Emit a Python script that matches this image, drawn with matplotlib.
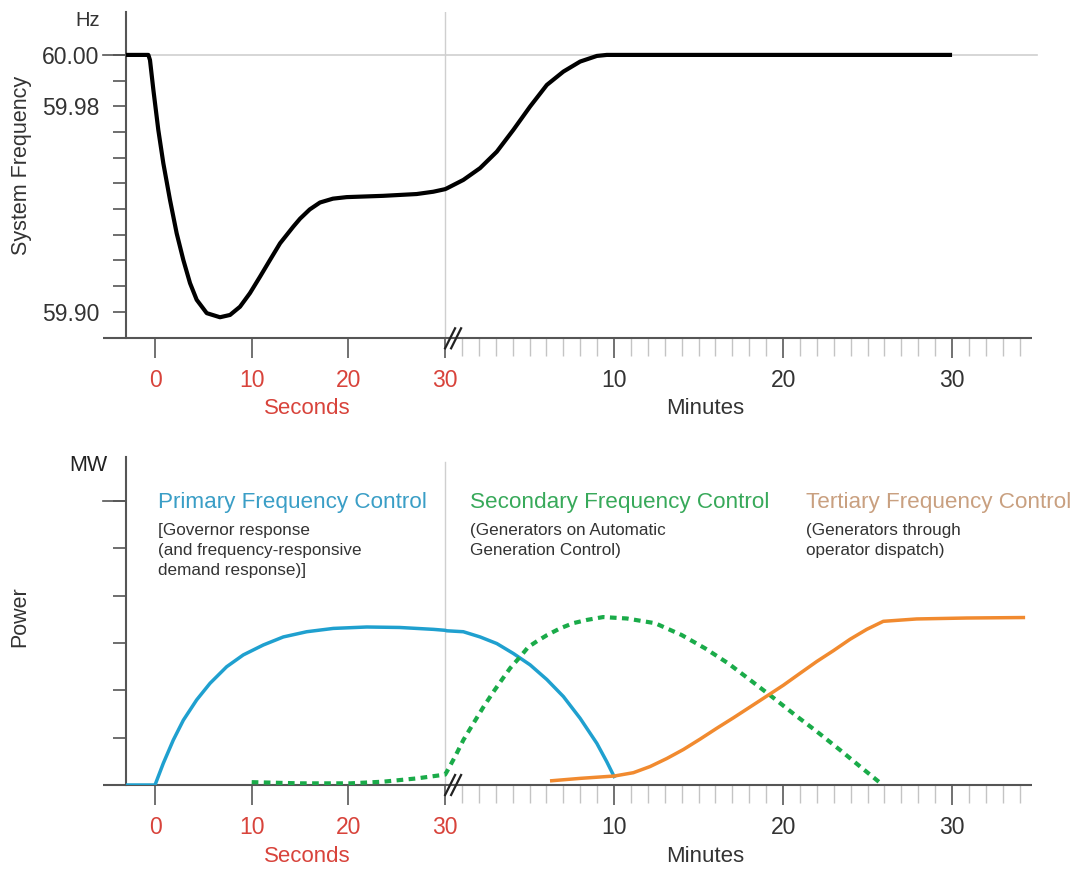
import matplotlib
matplotlib.use("Agg")
import matplotlib.pyplot as plt
from matplotlib import transforms
from matplotlib.lines import Line2D

plt.rcParams['font.family'] = ['Liberation Sans', 'DejaVu Sans']

# minutes are drawn on a compressed scale after the 30 s break
MIN_SCALE = 16.9 / 9.67


def mins(m):
    return [30 + v * MIN_SCALE for v in m] if isinstance(m, list) else 30 + m * MIN_SCALE


# system frequency (Hz): seconds part, then minutes part
freq_sec_t = [-3, -0.69, -0.52, -0.17, 0.34, 0.86, 1.55, 2.24, 2.93, 3.62, 4.31, 5.35, 6.72,
              7.76, 8.79, 9.82, 10.86, 11.89, 12.93, 14.3, 15.0, 16.0, 17.06, 18.4, 19.82,
              23.6, 27.06, 28.78, 30]
freq_sec_v = [60.0, 60.0, 59.998, 59.9864, 59.9708, 59.9578, 59.9435, 59.9305, 59.9201,
              59.9111, 59.9046, 59.8994, 59.8978, 59.8987, 59.9019, 59.9072, 59.9136, 59.9201,
              59.9266, 59.9331, 59.9362, 59.9398, 59.9425, 59.944, 59.9446, 59.9451, 59.9458,
              59.9467, 59.9477]
freq_min_t = [0.1, 1.08, 2.07, 3.06, 4.04, 5.03, 6.02, 7.0, 7.99, 8.98, 9.57, 30]
freq_min_v = [59.948, 59.9513, 59.9559, 59.9623, 59.9708, 59.9799, 59.9883, 59.9935, 59.9974,
              59.9996, 60.0, 60.0]

# primary control power
prim_sec_t = [-3, 0, 0.86, 1.89, 2.93, 4.31, 5.69, 7.41, 9.13, 11.2, 13.27, 15.69, 18.44,
              21.9, 25.3, 28.8, 30]
prim_sec_v = [0, 0, 0.46, 0.95, 1.37, 1.80, 2.15, 2.50, 2.75, 2.96, 3.13, 3.24, 3.31, 3.34,
              3.33, 3.29, 3.27]
prim_min_t = [0.1, 1.08, 2.07, 3.06, 4.04, 5.03, 6.02, 7.0, 7.99, 8.98, 9.57, 10.0]
prim_min_v = [3.26, 3.24, 3.13, 2.99, 2.78, 2.54, 2.23, 1.87, 1.41, 0.88, 0.49, 0.18]

# secondary control power
sec_sec_t = [10, 15, 20.2, 23.6, 27.1, 30]
sec_sec_v = [0.06, 0.035, 0.035, 0.07, 0.14, 0.22]
sec_min_t = [0.1, 0.59, 1.08, 1.67, 2.27, 2.86, 3.35, 3.85, 4.44, 4.93, 5.44, 6.04, 6.80,
             7.57, 8.40, 9.35, 10.75, 12.43, 14.0, 15.38, 16.76, 18.05, 19.33, 20.71, 22.0,
             23.37, 24.56, 25.9]
sec_min_v = [0.28, 0.60, 0.95, 1.30, 1.65, 1.97, 2.22, 2.47, 2.71, 2.92, 3.04, 3.17, 3.31,
             3.42, 3.49, 3.55, 3.52, 3.42, 3.17, 2.89, 2.57, 2.22, 1.87, 1.48, 1.13, 0.74,
             0.39, 0.0]

# tertiary control power
ter_min_t = [6.31, 7.99, 10.02, 11.14, 12.13, 13.12, 14.1, 15.09, 16.08, 17.06, 18.05, 19.04,
             20.02, 21.0, 21.99, 22.98, 23.96, 24.95, 25.93, 27.9, 30.87, 34.22]
ter_min_v = [0.09, 0.14, 0.19, 0.26, 0.39, 0.56, 0.75, 0.97, 1.20, 1.42, 1.65, 1.88, 2.11, 2.36,
             2.61, 2.84, 3.08, 3.29, 3.46, 3.51, 3.53, 3.54]

sec_ticks = [0, 10, 20, 30]
min_ticks = [10, 20, 30]
freq_ticks = [60.0 - 0.01 * i for i in range(11)]
freq_labels = {60.0: '60.00', 59.98: '59.98', 59.90: '59.90'}
power_ticks = [6, 5, 4, 3, 2, 1]

RED = '#d8433b'
DARK = '#333333'
SPINE = '#555555'
GRID = '#cfcfcf'
TICK_FS = 16.5
AXLBL_FS = 16

fig = plt.figure(figsize=(10.77, 8.71), dpi=100)
left, width = 126 / 1077, 906 / 1077
ax1 = fig.add_axes([left, 1 - 338.3 / 871, width, 326 / 871])
ax2 = fig.add_axes([left, 1 - 785 / 871, width, 328.3 / 871])

xmax = mins(34.73)
px = 72 / 100  # points per pixel
AXW = 906


def setup_axis(ax, ymin, ymax, yticks, ylabels, vline_top):
    ax.set_xlim(-3, xmax)
    ax.set_ylim(ymin, ymax)
    for s in ('top', 'right', 'bottom'):
        ax.spines[s].set_visible(False)
    ax.spines['left'].set_color(SPINE)
    ax.spines['left'].set_linewidth(1.5)
    # baseline runs a little past the y axis
    ax.plot([-23 / AXW, 1], [0, 0], transform=ax.transAxes, color=SPINE, lw=1.5,
            clip_on=False, solid_capstyle='butt')
    ax.set_yticks(yticks)
    ax.set_yticklabels(ylabels, fontsize=TICK_FS, color=DARK)
    ax.tick_params(axis='y', length=13 * px, width=1.2, color=SPINE, pad=14 * px)
    # long tick at the top value
    bt = transforms.blended_transform_factory(ax.transAxes, ax.transData)
    ax.plot([-23 / AXW, 0], [max(yticks)] * 2, transform=bt, color=SPINE, lw=1.2, clip_on=False)

    major = sec_ticks + mins(min_ticks)
    ax.set_xticks(major)
    ax.set_xticklabels([str(v) for v in sec_ticks] + [str(v) for v in min_ticks], fontsize=TICK_FS)
    for i, lab in enumerate(ax.get_xticklabels()):
        lab.set_color(RED if i < len(sec_ticks) else DARK)
    ax.set_xticks([mins(m) for m in range(1, 35) if m % 10], minor=True)
    ax.tick_params(axis='x', which='major', length=20 * px, width=1.3, color='#666666', pad=11 * px)
    ax.tick_params(axis='x', which='minor', length=18 * px, width=1.0, color='#c4c4c4')

    ax.axvline(30, ymax=vline_top, color=GRID, lw=1.0, zorder=0)
    return transforms.blended_transform_factory(ax.transData, ax.transAxes)


def draw_break(ax, y):
    fig.canvas.draw()
    bx, by = ax.transData.transform((30, y))
    for off in (5, 11):
        fig.add_artist(Line2D([bx + off - 5, bx + off + 5], [by - 10, by + 10],
                              transform=transforms.IdentityTransform(), color='#222222', lw=1.6))


# top panel: system frequency
tb1 = setup_axis(ax1, 59.8896, 60.0166, freq_ticks,
                 [freq_labels.get(round(v, 2), '') for v in freq_ticks], 1.0)
ax1.axhline(60.0, color=GRID, lw=1.2, zorder=0, xmax=1.005, clip_on=False)
ax1.plot(freq_sec_t + mins(freq_min_t), freq_sec_v + freq_min_v, color='black', lw=3,
         solid_joinstyle='round', solid_capstyle='butt', zorder=3)
ax1.text(-0.042, 0.976, 'Hz', transform=ax1.transAxes, ha='center', va='center',
         fontsize=14.5, color=DARK)
ax1.text(-0.115, 0.53, 'System Frequency', transform=ax1.transAxes, rotation=90,
         ha='center', va='center', fontsize=15.5, color=DARK)
ax1.text(15.7, -0.214, 'Seconds', transform=tb1, ha='center', va='center', fontsize=AXLBL_FS,
         color=RED)
ax1.text(mins(15.4), -0.214, 'Minutes', transform=tb1, ha='center', va='center',
         fontsize=AXLBL_FS, color=DARK)

# bottom panel: power response
tb2 = setup_axis(ax2, 0, 6.94, power_ticks, [''] * len(power_ticks), 6.83 / 6.94)
ax2.plot(prim_sec_t + mins(prim_min_t), prim_sec_v + prim_min_v, color='#1fa0cf', lw=2.5,
         solid_joinstyle='round', zorder=3)
ax2.plot(sec_sec_t + mins(sec_min_t), sec_sec_v + sec_min_v, color='#1aab49', lw=3,
         linestyle=(0, (1.6, 1.3)), zorder=3)
ax2.plot(mins(ter_min_t), ter_min_v, color='#f18a2f', lw=2.5, solid_joinstyle='round', zorder=3)

ax2.text(-0.042, 0.972, 'MW', transform=ax2.transAxes, ha='center', va='center',
         fontsize=15.5, color='#222222')
ax2.text(-0.117, 0.512, 'Power', transform=ax2.transAxes, rotation=90,
         ha='center', va='center', fontsize=15.5, color=DARK)
ax2.text(15.7, -0.219, 'Seconds', transform=tb2, ha='center', va='center', fontsize=AXLBL_FS,
         color=RED)
ax2.text(mins(15.4), -0.219, 'Minutes', transform=tb2, ha='center', va='center',
         fontsize=AXLBL_FS, color=DARK)

titles = [
    (0.3, 'Primary Frequency Control', '#3a9ec6',
     '[Governor response\n(and frequency-responsive\ndemand response)]'),
    (mins(1.48), 'Secondary Frequency Control', '#38a95a',
     '(Generators on Automatic\nGeneration Control)'),
    (mins(21.36), 'Tertiary Frequency Control', '#c9a080',
     '(Generators through\noperator dispatch)'),
]
for x, title, col, sub in titles:
    ax2.text(x, 0.844, title, transform=tb2, ha='left', va='baseline', fontsize=16.2, color=col)
    ax2.text(x, 0.797, sub, transform=tb2, ha='left', va='top', fontsize=12.3, color=DARK,
             linespacing=1.42)

draw_break(ax1, 59.8896)
draw_break(ax2, 0)

fig.savefig('out.png', dpi=100, facecolor='white')
